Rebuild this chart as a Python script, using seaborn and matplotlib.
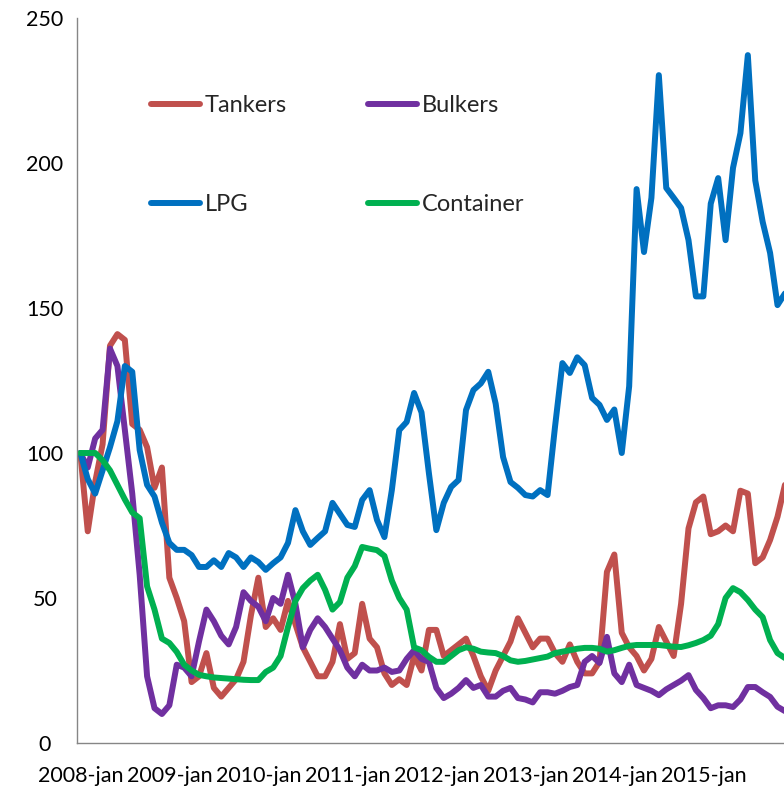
import numpy as np
import pandas as pd
import matplotlib
matplotlib.use("Agg")
import matplotlib.pyplot as plt
import matplotlib.transforms as mtransforms
from matplotlib.lines import Line2D
import seaborn as sns

# ---------------- data (monthly index, 2008-jan .. 2015-dec) ----------------
tick_labels = ["2008-jan", "2009-jan", "2010-jan", "2011-jan",
               "2012-jan", "2013-jan", "2014-jan", "2015-jan"]
series_names = ["Tankers", "Bulkers", "LPG", "Container"]
series_colors = ["#C0504D", "#7030A0", "#0070C0", "#00B050"]

tankers = [100, 73, 90, 103, 137, 141, 139, 110, 108, 102, 88, 95,
           57, 50, 42, 21, 23, 31, 19, 16, 19, 22, 28, 44,
           57, 40, 43, 39, 49, 41, 33, 28, 23, 23, 28, 41,
           29, 31, 48, 36, 33, 24, 20, 22, 20, 30, 25, 39,
           39, 30, 32, 34, 36, 30, 23, 18, 25, 30, 35, 43,
           38, 33, 36, 36, 31, 28, 34, 28, 24, 24, 28, 59,
           65, 38, 33, 30, 25, 29, 40, 35, 30, 48, 74, 83,
           85, 72, 73, 75, 73, 87, 86, 62, 64, 70, 78, 89]

bulkers = [100, 95, 105, 108, 136, 130, 108, 86, 58, 23, 12, 10,
           13, 27, 26, 23, 35, 46, 42, 37, 34, 40, 52, 49,
           47, 42, 50, 48, 58, 48, 33, 39, 43, 40, 36, 32,
           26, 23, 27, 25, 25, 26, 24.5, 25, 29, 32, 29, 28,
           19, 15.5, 17, 19, 21.7, 19, 20, 16, 16, 18, 19, 15.5,
           15, 14, 17.5, 17.5, 17, 18, 19.3, 20, 28, 30, 27.6, 36.6,
           24, 21, 27, 20, 19, 18, 16.5, 18.5, 20, 21.5, 23.4, 18.3,
           15.5, 12, 13, 13, 12.4, 15, 19.3, 19.3, 17.5, 15.9, 12.5, 11]

lpg = [100, 91, 86, 94, 102, 111, 130, 128, 101, 89, 85, 76,
       69, 66.6, 66.6, 64.8, 60.7, 60.7, 63, 60.7, 65.5, 64, 60.7, 64,
       62.4, 59.7, 62, 64, 69, 80.3, 73, 68.3, 70.7, 73, 82.8, 79,
       75.2, 74.5, 83.8, 87.2, 76.9, 71, 87.2, 107.9, 110.7, 120.7, 114, 93,
       73.4, 82.8, 88.3, 90.7, 114.8, 121.7, 124, 128, 117, 98.6, 90, 88,
       85.5, 85, 87.2, 85.5, 109, 131, 127.6, 133, 130.3, 119, 116.6, 111.4,
       115, 100, 123, 191, 169.3, 188, 230.3, 191.4, 188, 184.5, 173.4, 154,
       154, 186, 194.8, 173.4, 198.3, 210.3, 237.2, 194, 179.7, 169, 151, 155]

container = [100, 100, 100, 97.5, 94, 89, 84, 79.5, 77.5, 54, 46, 36,
             34.5, 31.4, 27, 25, 23.5, 23, 22.6, 22.4, 22.2, 22, 21.8, 21.7,
             21.7, 24.5, 26, 30, 40, 49, 53.4, 56, 58, 52.8, 46, 48.6,
             57, 61, 67.6, 67, 66.5, 64.5, 56, 50, 46, 33, 32, 29.7,
             28, 28, 30, 32, 33, 32.5, 31.5, 31.2, 31, 30, 28.5, 28,
             28.3, 28.8, 29.3, 29.8, 31, 31.5, 32, 32.5, 32.8, 32.8, 32.5, 31.5,
             32, 32.8, 33.5, 33.8, 33.8, 33.8, 33.8, 33.5, 33.2, 33.1, 33.7, 34.5,
             35.5, 37, 41, 50, 53.4, 52, 49.3, 46, 43.4, 35.5, 31, 29.3]

# ---------------- long-form table ----------------
n = len(tankers)
month = np.arange(n) + 0.45  # mid-month positions on a monthly axis
df = pd.DataFrame({
    "month": np.tile(month, 4),
    "value": np.concatenate([tankers, bulkers, lpg, container]),
    "series": np.repeat(series_names, n),
})

sns.set_style("white")
plt.rcParams["font.family"] = ["Lato", "DejaVu Sans"]

W, H, DPI = 784, 787, 100
fig = plt.figure(figsize=(W / DPI, H / DPI), dpi=DPI)
ax = fig.add_axes([77 / W, 44 / H, 707 / W, 725 / H])

sns.lineplot(data=df, x="month", y="value", hue="series",
             hue_order=series_names, palette=series_colors,
             linewidth=4.3, sort=False, estimator=None, legend=False, ax=ax)
for ln in ax.lines:
    ln.set_solid_capstyle("round")
    ln.set_solid_joinstyle("round")

ax.set_xlim(0, 707 / (89 / 12))
ax.set_ylim(0, 250)
ax.set_xticks(np.arange(0, 12 * len(tick_labels), 12))
ax.set_xticklabels(tick_labels)
ax.set_yticks(np.arange(0, 251, 50))
ax.set_xlabel("")
ax.set_ylabel("")

for side in ["top", "right"]:
    ax.spines[side].set_visible(False)
for side in ["left", "bottom"]:
    ax.spines[side].set_color("#868686")
    ax.spines[side].set_linewidth(1.0)

ax.tick_params(axis="both", direction="out", length=6, width=1,
               color="#868686", labelsize=15.5, labelcolor="black")
ax.tick_params(axis="x", pad=10.5)
ax.tick_params(axis="y", pad=17)
for lab in ax.get_yticklabels():
    lab.set_horizontalalignment("center")

shift = mtransforms.ScaledTranslation(4 / DPI, 0, fig.dpi_scale_trans)
for lab in ax.get_xticklabels():
    lab.set_transform(lab.get_transform() + shift)

# legend laid out row-wise: Tankers, Bulkers / LPG, Container
order = [0, 2, 1, 3]
handles = [Line2D([0], [0], color=series_colors[i], lw=4.3,
                  solid_capstyle="round") for i in order]
labels = [series_names[i] for i in order]
ax.legend(handles, labels, loc="upper left",
          bbox_to_anchor=(151 / W, (H - 95) / H), bbox_transform=fig.transFigure,
          ncol=2, frameon=False, fontsize=17, handlelength=2.08,
          handletextpad=0.2, columnspacing=3.42, labelspacing=3.31,
          borderpad=0, borderaxespad=0)

fig.savefig("out.png", dpi=DPI)
